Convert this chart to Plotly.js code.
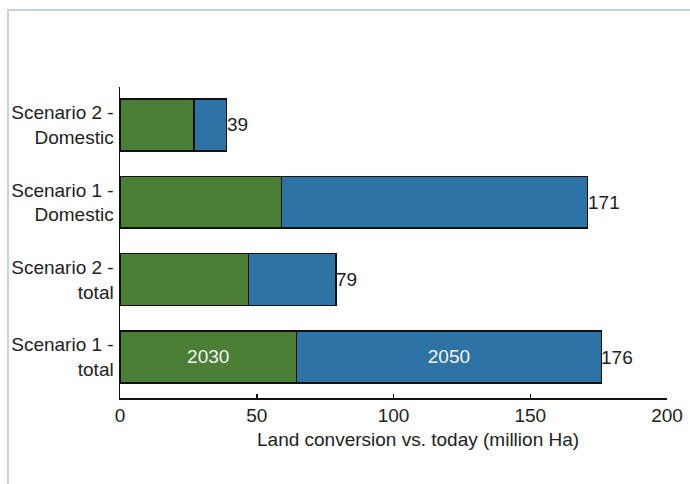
<!DOCTYPE html>
<html>
<head>
<meta charset="utf-8">
<script src="https://cdn.plot.ly/plotly-3.0.1.min.js"></script>
<style>
  html, body { margin: 0; padding: 0; background: #fff; }
  #chart { width: 690px; height: 484px; }
</style>
</head>
<body>
<div id="chart"></div>
<script>
// Scenarios, bottom to top
const categories = [
  'Scenario 1 -<br>total',
  'Scenario 2 -<br>total',
  'Scenario 1 -<br>Domestic',
  'Scenario 2 -<br>Domestic'
];
// Land converted by 2030 (million Ha)
const by2030 = [64.5, 47, 59, 27];
// Total land converted by 2050 (million Ha)
const totals2050 = [176, 79, 171, 39];
// Labels shown inside the first bar
const label2030 = ['2030', '', '', ''];
const label2050 = ['2050', '', '', ''];
const xTitle = 'Land conversion vs. today (million Ha)';

// Additional conversion between 2030 and 2050
const extra2050 = totals2050.map((t, i) => t - by2030[i]);

const FONT = 'Arial, "Liberation Sans", sans-serif';
const FS = 19;
const GREEN = '#4a7f35';
const BLUE = '#2e73a6';
const OUTLINE = { color: '#111', width: 1.5 };

const traces = [
  {
    type: 'bar', orientation: 'h', name: '2030',
    y: categories, x: by2030,
    marker: { color: GREEN, line: OUTLINE },
    text: label2030, textposition: 'inside', insidetextanchor: 'middle',
    textfont: { family: FONT, size: FS, color: '#f4f4f4' },
    constraintext: 'none', hoverinfo: 'x'
  },
  {
    type: 'bar', orientation: 'h', name: '2050',
    y: categories, x: extra2050,
    marker: { color: BLUE, line: OUTLINE },
    text: label2050, textposition: 'inside', insidetextanchor: 'middle',
    textfont: { family: FONT, size: FS, color: '#f4f4f4' },
    constraintext: 'none', hoverinfo: 'x'
  }
];

// Total value printed just past the end of each bar
const annotations = categories.map((c, i) => ({
  x: totals2050[i], y: c, xref: 'x', yref: 'y',
  text: String(totals2050[i]), showarrow: false,
  xanchor: 'left', yanchor: 'middle', xshift: -2,
  font: { family: FONT, size: FS, color: '#222' }
}));

// Axis title, placed a little right of centre
annotations.push({
  xref: 'paper', yref: 'paper', x: 0.544, y: -0.135,
  xanchor: 'center', yanchor: 'middle', showarrow: false,
  text: xTitle, font: { family: FONT, size: FS, color: '#222' }
});

const layout = {
  width: 690, height: 484,
  margin: { l: 120, r: 23, t: 87, b: 86 },
  paper_bgcolor: '#fff', plot_bgcolor: '#fff',
  barmode: 'stack', bargap: 0.33,
  showlegend: false,
  font: { family: FONT, size: FS, color: '#222' },
  xaxis: {
    range: [0, 200], dtick: 50, tick0: 0,
    showgrid: false, zeroline: false,
    showline: true, linecolor: '#111', linewidth: 1.5,
    ticks: 'inside', ticklen: 4, tickcolor: '#111', tickwidth: 1.5,
    tickfont: { family: FONT, size: FS, color: '#222' },
    fixedrange: true
  },
  yaxis: {
    type: 'category', categoryorder: 'array', categoryarray: categories,
    range: [-0.53, 3.49],
    showgrid: false, zeroline: false,
    showline: true, linecolor: '#111', linewidth: 1.5,
    ticks: '', ticklabelstandoff: 1,
    tickfont: { family: FONT, size: FS, color: '#222' },
    fixedrange: true
  },
  annotations: annotations,
  shapes: [
    {
      type: 'rect', xref: 'paper', yref: 'paper',
      x0: -0.2048, x1: 1.2, y0: -0.4, y1: 1.2476,
      line: { color: '#c6d1df', width: 2 }, fillcolor: 'rgba(0,0,0,0)',
      layer: 'below'
    }
  ]
};

Plotly.newPlot('chart', traces, layout, { displayModeBar: false, staticPlot: true });
</script>
</body>
</html>
